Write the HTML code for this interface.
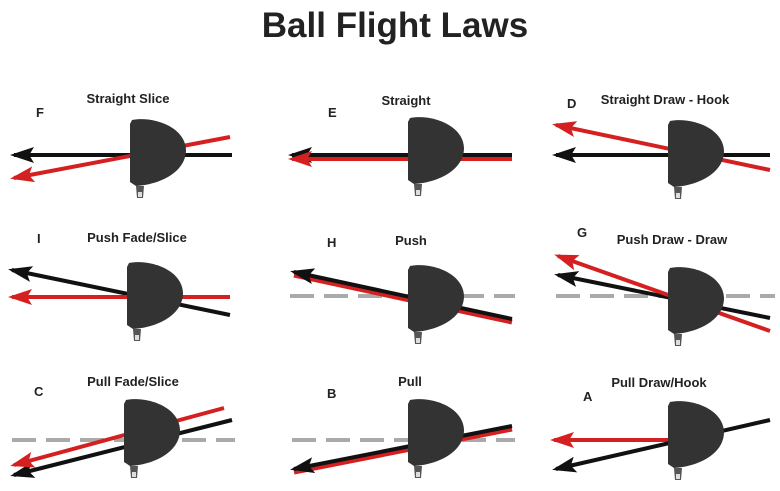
<!DOCTYPE html><html><head><style>body{margin:0;background:#fff}svg{display:block}text{font-family:"Liberation Sans",Arial,sans-serif;font-weight:bold;fill:#222}</style></head><body>
<svg width="780" height="491" viewBox="0 0 780 491">
<defs>
<marker id="ak" markerWidth="6" markerHeight="4" refX="5" refY="2" orient="auto" markerUnits="strokeWidth"><path d="M0,0 L6,2 L0,4 L1.2,2Z" fill="#111"/></marker>
<marker id="ar" markerWidth="6" markerHeight="4" refX="5" refY="2" orient="auto" markerUnits="strokeWidth"><path d="M0,0 L6,2 L0,4 L1.2,2Z" fill="#d42020"/></marker>
<g id="hd"><path d="M2,0 C22,-4 55,6 56,30 C56,50 34,64 6,66 L0,62 L0,4Z" fill="#333"/><path d="M6,66 L14,66 L13,78 L7,78Z" fill="#555"/><rect x="8" y="72" width="4" height="5" fill="#ddd"/></g>
</defs>
<rect width="780" height="491" fill="#fff"/>
<text x="395" y="37" font-size="35" text-anchor="middle" fill="#111">Ball Flight Laws</text>
<g font-size="13">
<text x="128" y="103" text-anchor="middle">Straight Slice</text><text x="36" y="117">F</text>
<text x="406" y="105" text-anchor="middle">Straight</text><text x="328" y="117">E</text>
<text x="665" y="104" text-anchor="middle">Straight Draw - Hook</text><text x="567" y="108">D</text>
<text x="137" y="242" text-anchor="middle">Push Fade/Slice</text><text x="37" y="243">I</text>
<text x="411" y="245" text-anchor="middle">Push</text><text x="327" y="247">H</text>
<text x="672" y="244" text-anchor="middle">Push Draw - Draw</text><text x="577" y="237">G</text>
<text x="133" y="386" text-anchor="middle">Pull Fade/Slice</text><text x="34" y="396">C</text>
<text x="410" y="386" text-anchor="middle">Pull</text><text x="327" y="398">B</text>
<text x="659" y="387" text-anchor="middle">Pull Draw/Hook</text><text x="583" y="401">A</text>
</g>
<g stroke-width="4" fill="none">
<line x1="232" y1="155" x2="14" y2="155" stroke="#111" marker-end="url(#ak)"/>
<line x1="230" y1="137" x2="14" y2="178" stroke="#d42020" marker-end="url(#ar)"/>
<line x1="512" y1="155" x2="292" y2="155" stroke="#111" marker-end="url(#ak)"/>
<line x1="512" y1="159" x2="292" y2="159" stroke="#d42020" marker-end="url(#ar)"/>
<line x1="770" y1="155" x2="556" y2="155" stroke="#111" marker-end="url(#ak)"/>
<line x1="770" y1="170" x2="556" y2="125" stroke="#d42020" marker-end="url(#ar)"/>
<g stroke="#aaa" stroke-dasharray="24,10" stroke-width="4">
<line x1="290" y1="296" x2="515" y2="296"/><line x1="556" y1="296" x2="775" y2="296"/>
<line x1="12" y1="440" x2="235" y2="440"/><line x1="292" y1="440" x2="515" y2="440"/>
</g>
<line x1="230" y1="315" x2="12" y2="270" stroke="#111" marker-end="url(#ak)"/>
<line x1="230" y1="297" x2="12" y2="297" stroke="#d42020" marker-end="url(#ar)"/>
<line x1="512" y1="322" x2="294" y2="275" stroke="#d42020" stroke-width="5"/>
<line x1="512" y1="319" x2="294" y2="272" stroke="#111" marker-end="url(#ak)"/>
<line x1="770" y1="318" x2="558" y2="275" stroke="#111" marker-end="url(#ak)"/>
<line x1="770" y1="331" x2="558" y2="256" stroke="#d42020" marker-end="url(#ar)"/>
<line x1="232" y1="420" x2="14" y2="475" stroke="#111" marker-end="url(#ak)"/>
<line x1="224" y1="408" x2="14" y2="465" stroke="#d42020" marker-end="url(#ar)"/>
<line x1="512" y1="429" x2="294" y2="472" stroke="#d42020" stroke-width="5"/>
<line x1="512" y1="426" x2="294" y2="469" stroke="#111" marker-end="url(#ak)"/>
<line x1="672" y1="440" x2="554" y2="440" stroke="#d42020" marker-end="url(#ar)"/>
<line x1="770" y1="420" x2="556" y2="469" stroke="#111" marker-end="url(#ak)"/>
</g>
<use href="#hd" x="130" y="120"/>
<use href="#hd" x="408" y="118"/>
<use href="#hd" x="668" y="121"/>
<use href="#hd" x="127" y="263"/>
<use href="#hd" x="408" y="266"/>
<use href="#hd" x="668" y="268"/>
<use href="#hd" x="124" y="400"/>
<use href="#hd" x="408" y="400"/>
<use href="#hd" x="668" y="402"/>
</svg>
</body></html>
